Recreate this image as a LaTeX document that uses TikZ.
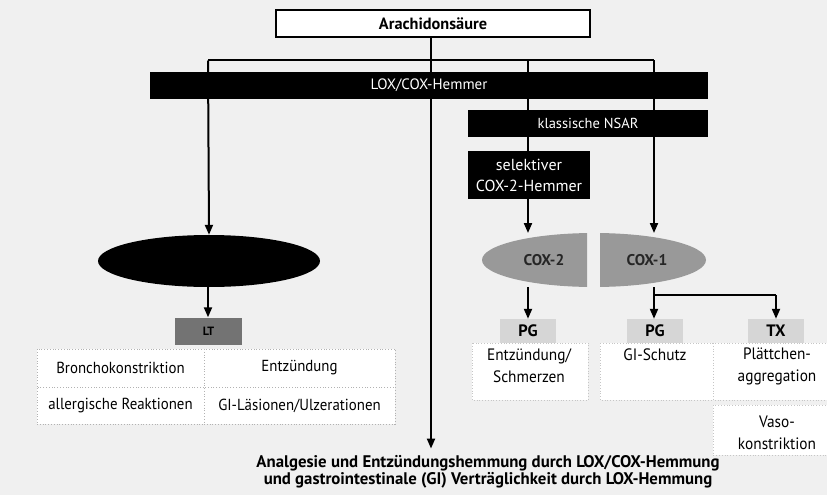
\documentclass[tikz,border=0pt]{standalone}
\usepackage{fontspec}
\setmainfont{PT Sans}
\newfontfamily\condf[FakeStretch=0.93]{PT Sans}
\usetikzlibrary{arrows.meta,shapes.geometric,backgrounds}
\definecolor{bggray}{gray}{0.94}
\definecolor{midgray}{gray}{0.6}
\definecolor{darkpatch}{gray}{0.45}
\definecolor{patchgray}{gray}{0.84}
\tikzset{
  lnk/.style={line width=2pt},
  arr/.style={line width=2pt,-{Triangle[width=8pt,length=10pt]}},
  box/.style={draw=black, line width=1.5pt, fill=white, inner sep=0pt, font=\fontsize{16.3}{18}\selectfont\bfseries},
  bar/.style={fill=black, text=white, inner sep=0pt, font=\fontsize{15}{17}\selectfont},
  lbl/.style={inner sep=0pt, font=\condf\fontsize{16.5}{22}\selectfont, align=center},
  cell/.style={draw=gray!60, dotted, line width=0.8pt, fill=white, inner sep=0pt, font=\condf\fontsize{16}{18}\selectfont},
  rcell/.style={draw=gray!45, dotted, line width=0.8pt, fill=white},
  pg/.style={fill=patchgray, inner sep=0pt, minimum width=56pt, minimum height=24pt, font=\fontsize{16.5}{18}\selectfont\bfseries},
  cox/.style={inner sep=0pt, font=\fontsize{15.5}{17}\selectfont\bfseries, text=black!85},
}
\begin{document}
\begin{tikzpicture}[x=1pt,y=-1pt]
\useasboundingbox (0,0) rectangle (827,495);
% boxes
\node[box, minimum width=314pt, minimum height=27pt] (ara) at (433,23.5) {Arachidonsäure};
\node[bar, minimum width=558pt, minimum height=27pt] (lox) at (429,85.5) {LOX/COX-Hemmer};
\node[bar, minimum width=240pt, minimum height=27pt, font=\fontsize{14.5}{16}\selectfont] (nsar) at (588,123.5) {klassische NSAR};
\node[bar, minimum width=122pt, minimum height=48pt, align=center, font=\fontsize{16}{21}\selectfont] (sel) at (529,175) {selektiver\\COX-2-Hemmer};
% LOX ellipse
\node[ellipse, fill=black, minimum width=222pt, minimum height=52pt, inner sep=0pt] (lox5) at (209,261) {};
\node[fill=darkpatch, minimum width=67pt, minimum height=27pt, inner sep=0pt, font=\fontsize{12}{14}\selectfont\bfseries, text=black] (lt) at (208.5,331) {LT};
% COX ellipse halves
\begin{scope}
\clip (470,225) rectangle (587,295);
\fill[midgray] (594,260) ellipse [x radius=112pt, y radius=27pt];
\end{scope}
\begin{scope}
\clip (600,225) rectangle (720,295);
\fill[midgray] (594,260) ellipse [x radius=112pt, y radius=27pt];
\end{scope}
\node[cox] (cox2) at (544,260) {COX-2};
\node[cox] (cox1) at (647,260) {COX-1};
% products
\node[pg] (pg2) at (528,331) {PG};
\node[pg] (pg1) at (655,331) {PG};
\node[pg] (tx) at (776,331) {TX};
\node[lbl] (e2) at (529,366) {Entzündung/\\Schmerzen};
\node[lbl] (e1) at (655,355) {GI-Schutz};
\node[lbl] (et) at (777,366) {Plättchen-\\aggregation};
\node[lbl] (ev) at (777,433) {Vaso-\\konstriktion};
% left table
\node[cell, minimum width=167pt, minimum height=38pt] (c1) at (120.5,368) {Bronchokonstriktion};
\node[cell, minimum width=191pt, minimum height=38pt] (c2) at (299.5,368) {Entzündung};
\node[cell, minimum width=167pt, minimum height=37pt] (c3) at (120.5,405.5) {allergische Reaktionen};
\node[cell, minimum width=191pt, minimum height=37pt] (c4) at (299.5,405.5) {GI-Läsionen/Ulzerationen};
% result
\node[inner sep=0pt, align=center, font=\fontsize{16.8}{15.5}\selectfont\bfseries] (res) at (488,472) {Analgesie und Entzündungshemmung durch LOX/COX-Hemmung\\und gastrointestinale (GI) Verträglichkeit durch LOX-Hemmung};
% junctions
\coordinate (j0) at (431,60.5);
\coordinate (jl) at (208,60.5);
\coordinate (jm) at (528,60.5);
\coordinate (jr) at (654,60.5);
\coordinate (c2top) at (528,233);
\coordinate (c1top) at (654,233);
\coordinate (c2bot) at (528,287);
\coordinate (c1bot) at (654,287);
\coordinate (br) at (654,295);
\coordinate (brx) at (776,295);
\begin{scope}[on background layer]
\fill[bggray] (0,0) rectangle (827,495);
\draw[rcell] (472,343) rectangle (588,400);
\draw[rcell] (600,343) rectangle (713,400);
\draw[rcell] (713,343) rectangle (827,400);
\draw[rcell] (713,405) rectangle (827,455);
\draw[lnk] (ara.south -| j0) -- (j0);
\draw[lnk] (jl) -- (jr);
\draw[arr] (jl) -- (lox5.north);
\draw[arr] (j0) -- (res.north -| j0) [shorten >=7pt];
\draw[lnk] (jm) -- (sel.north -| jm);
\draw[arr] (sel.south -| jm) -- (c2top);
\draw[arr] (jr) -- (c1top);
\end{scope}
\draw[arr] (lox5.south -| jl) -- (lt.north -| jl);
\draw[arr] (c2bot) -- (pg2.north -| c2bot);
\draw[arr] (c1bot) -- (pg1.north -| c1bot);
\draw[lnk] (br) -- (brx);
\draw[arr] (brx) -- (tx.north);
\end{tikzpicture}
\end{document}
